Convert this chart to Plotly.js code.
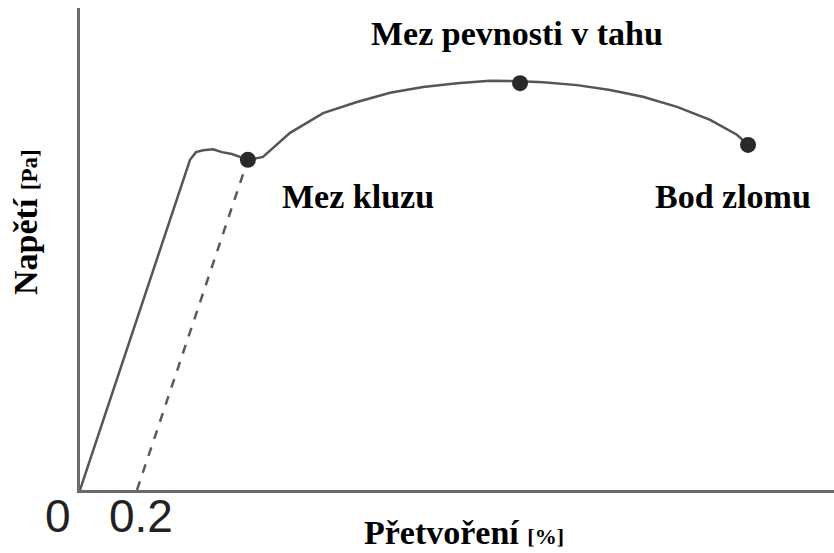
<!DOCTYPE html>
<html>
<head>
<meta charset="utf-8">
<script src="https://cdn.plot.ly/plotly-3.0.1.min.js"></script>
<style>
  html, body { margin: 0; padding: 0; background: #fff; }
  #plot { width: 834px; height: 553px; }
</style>
</head>
<body>
<div id="plot"></div>
<script>
// strain [%] and stress (arbitrary units)
var curveStrain = [0, 0.386, 0.407, 0.432, 0.467, 0.498, 0.533, 0.561, 0.589, 0.642, 0.737, 0.853, 0.972, 1.088, 1.204, 1.323, 1.439, 1.544, 1.625, 1.744, 1.860, 1.975, 2.095, 2.211, 2.305, 2.344];
var curveStress = [0, 68.5, 70.1, 70.5, 70.7, 70.1, 69.7, 69.1, 68.5, 69.1, 74.1, 78.2, 80.5, 82.4, 83.6, 84.4, 84.9, 84.8, 84.6, 84.0, 83.0, 81.6, 79.5, 76.8, 73.7, 71.6];

// 0.2 % offset line
var offsetStrain = [0.2, 0.589];
var offsetStress = [0, 68.5];

// marked points
var pointNames = ["Mez kluzu", "Mez pevnosti v tahu", "Bod zlomu"];
var pointStrain = [0.589, 1.544, 2.344];
var pointStress = [68.5, 84.4, 71.6];

var tickLabels = ["0", "0.2"];
var tickStrain = [0, 0.2];

var serif = "Liberation Serif, Times New Roman, serif";

var curve = {
    x: curveStrain,
    y: curveStress,
    mode: "lines",
    line: { color: "#555555", width: 2.5 },
    hoverinfo: "skip"
};

var offset = {
    x: offsetStrain,
    y: offsetStress,
    mode: "lines",
    line: { color: "#5a5a5a", width: 2.5, dash: "dash" },
    hoverinfo: "skip"
};

var points = {
    x: pointStrain,
    y: pointStress,
    text: pointNames,
    mode: "markers",
    marker: { color: "#2a2a2a", size: 16 },
    hoverinfo: "text"
};

var data = [offset, curve, points];

var annotations = [
    { x: pointStrain[0], y: pointStress[0], text: pointNames[0], xshift: 110, yshift: -37 },
    { x: pointStrain[1], y: pointStress[1], text: pointNames[1], xshift: -3, yshift: 50 },
    { x: pointStrain[2], y: pointStress[2], text: pointNames[2], xshift: -15, yshift: -52 }
].map(a => Object.assign(a, {
    xref: "x", yref: "y", showarrow: false, xanchor: "center", yanchor: "middle",
    font: { family: serif, size: 34, color: "#000", weight: "bold" }
}));

// tick labels under the origin
tickLabels.forEach(function (t, i) {
    annotations.push({
        x: tickStrain[i], y: 0, xref: "x", yref: "y", text: t, showarrow: false,
        xanchor: "center", yanchor: "middle",
        xshift: i === 0 ? -22 : 4, yshift: -26,
        font: { family: "Liberation Sans, Arial, sans-serif", size: 46, color: "#222" }
    });
});

// axis titles
annotations.push({
    xref: "paper", yref: "paper", x: 0.509, y: -0.1307, showarrow: false,
    xanchor: "center", yanchor: "bottom",
    text: "<b>Přetvoření</b> <b><span style='font-size:22px'>[%]</span></b>",
    font: { family: serif, size: 34, color: "#000" }
});
annotations.push({
    xref: "paper", yref: "paper", x: -0.073, y: 0.556, showarrow: false, textangle: -90,
    xanchor: "center", yanchor: "middle",
    text: "<b>Napětí</b> <b><span style='font-size:23px'>[Pa]</span></b>",
    font: { family: serif, size: 34, color: "#000" }
});

var layout = {
    width: 834,
    height: 553,
    margin: { l: 80, r: 0, t: 8, b: 63 },
    paper_bgcolor: "#fff",
    plot_bgcolor: "#fff",
    showlegend: false,
    xaxis: {
        range: [0, 2.6456],
        showgrid: false, zeroline: false, showticklabels: false, ticks: "",
        showline: true, linecolor: "#6a6a6a", linewidth: 3
    },
    yaxis: {
        range: [0, 100],
        showgrid: false, zeroline: false, showticklabels: false, ticks: "",
        showline: true, linecolor: "#6a6a6a", linewidth: 3
    },
    annotations: annotations
};

Plotly.newPlot("plot", data, layout, { displayModeBar: false, staticPlot: true });
</script>
</body>
</html>
